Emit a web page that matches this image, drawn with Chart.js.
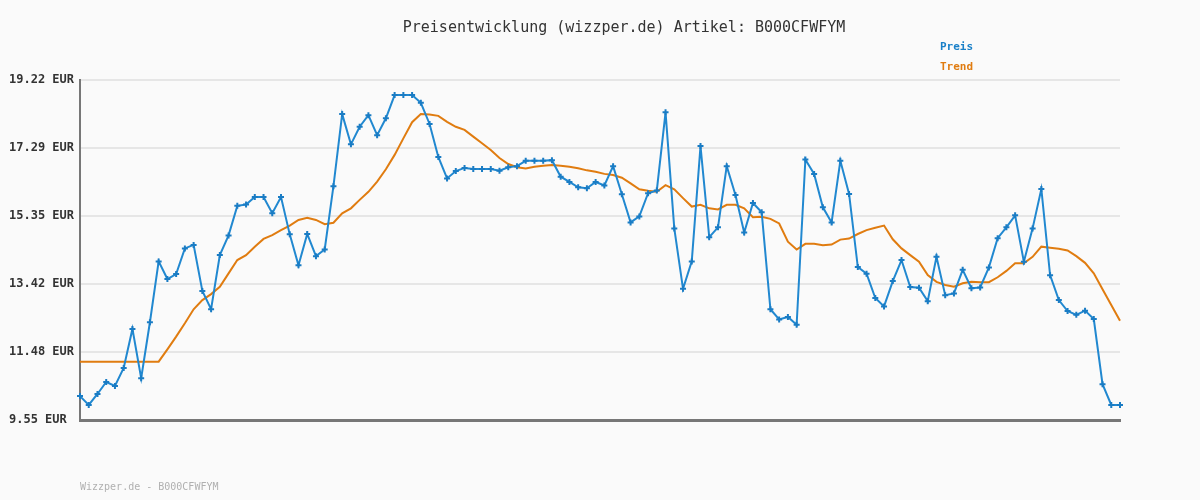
<!DOCTYPE html>
<html>
<head>
<meta charset="utf-8">
<script src="https://cdn.jsdelivr.net/npm/chart.js@4/dist/chart.umd.min.js"></script>
<style>
  html, body { margin: 0; padding: 0; background: #fafafa; }
  #wrap { width: 1200px; height: 500px; }
</style>
</head>
<body>
<div id="wrap"><canvas id="chart" width="1200" height="500"></canvas></div>
<script>
// Preis (blue) and Trend (orange), one value per day, 120 points
var preis = [
  10.23, 9.98, 10.29, 10.63, 10.52, 11.03, 12.14, 10.74, 12.33, 14.06,
  13.56, 13.70, 14.43, 14.53, 13.22, 12.70, 14.24, 14.80, 15.64, 15.68,
  15.89, 15.89, 15.43, 15.89, 14.83, 13.95, 14.84, 14.21, 14.40, 16.20,
  18.25, 17.39, 17.89, 18.22, 17.65, 18.13, 18.79, 18.79, 18.79, 18.57,
  17.97, 17.03, 16.42, 16.63, 16.72, 16.69, 16.69, 16.69, 16.64, 16.74,
  16.77, 16.92, 16.92, 16.92, 16.94, 16.47, 16.32, 16.17, 16.14, 16.32,
  16.22, 16.77, 15.97, 15.17, 15.34, 16.00, 16.08, 18.30, 15.00, 13.28,
  14.06, 17.34, 14.75, 15.03, 16.77, 15.95, 14.88, 15.72, 15.46, 12.70,
  12.41, 12.48, 12.26, 16.96, 16.55, 15.60, 15.17, 16.92, 15.98, 13.90,
  13.71, 13.02, 12.78, 13.50, 14.10, 13.33, 13.31, 12.93, 14.19, 13.10,
  13.15, 13.82, 13.30, 13.32, 13.89, 14.72, 15.03, 15.37, 14.05, 15.00,
  16.12, 13.67, 12.96, 12.65, 12.54, 12.66, 12.42, 10.57, 9.98, 9.98
];
var trend = [
  11.21, 11.21, 11.21, 11.21, 11.21, 11.21, 11.21, 11.21, 11.21, 11.21,
  11.56, 11.92, 12.30, 12.70, 12.96, 13.13, 13.34, 13.72, 14.10, 14.24,
  14.48, 14.70, 14.81, 14.95, 15.08, 15.24, 15.30, 15.24, 15.12, 15.16,
  15.43, 15.57, 15.81, 16.04, 16.33, 16.68, 17.09, 17.56, 18.02, 18.25,
  18.24, 18.20, 18.03, 17.89, 17.80, 17.61, 17.42, 17.23, 17.00, 16.83,
  16.74, 16.70, 16.75, 16.78, 16.80, 16.78, 16.75, 16.71, 16.65, 16.61,
  16.55, 16.52, 16.44, 16.28, 16.11, 16.07, 16.04, 16.23, 16.11, 15.86,
  15.62, 15.67, 15.57, 15.54, 15.67, 15.67, 15.57, 15.32, 15.33, 15.27,
  15.14, 14.62, 14.40, 14.56, 14.56, 14.52, 14.54, 14.68, 14.71, 14.84,
  14.95, 15.02, 15.08, 14.69, 14.43, 14.24, 14.05, 13.67, 13.48, 13.39,
  13.34, 13.44, 13.48, 13.47, 13.47, 13.61, 13.79, 14.01, 14.01, 14.19,
  14.48, 14.45, 14.42, 14.37, 14.21, 14.02, 13.72, 13.27, 12.82, 12.37
];
var yTicks = [9.55, 11.48, 13.42, 15.35, 17.29, 19.22];
var labels = preis.map(function (v, i) { return i + 1; });

var titleText = 'Preisentwicklung (wizzper.de) Artikel: B000CFWFYM';
var footerText = 'Wizzper.de - B000CFWFYM';
var mono = '"DejaVu Sans Mono", "Liberation Mono", monospace';

// title, legend and footer are plain text on the canvas
var decor = {
  id: 'decor',
  afterDraw: function (chart) {
    var c = chart.ctx;
    c.save();
    c.textBaseline = 'middle';
    c.font = '15px ' + mono;
    c.fillStyle = '#333333';
    c.textAlign = 'center';
    c.fillText(titleText, 624, 28);
    c.textAlign = 'left';
    c.font = 'bold 11px ' + mono;
    c.fillStyle = '#1a80c8';
    c.fillText('Preis', 940, 47);
    c.fillStyle = '#e07c10';
    c.fillText('Trend', 940, 67);
    c.font = '10px ' + mono;
    c.fillStyle = '#b0b0b0';
    c.fillText(footerText, 80, 487);
    c.restore();
  }
};

var ctx = document.getElementById('chart').getContext('2d');
var myChart = new Chart(ctx, {
  type: 'line',
  data: {
    labels: labels,
    datasets: [
      {
        label: 'Trend',
        data: trend,
        borderColor: '#e07c10',
        borderWidth: 2,
        pointRadius: 0,
        tension: 0,
        fill: false,
        order: 2
      },
      {
        label: 'Preis',
        data: preis,
        borderColor: '#2188d0',
        backgroundColor: '#1a80c8',
        borderWidth: 2,
        pointStyle: 'cross',
        pointRadius: 3,
        pointBorderColor: '#1a7cc4',
        pointBorderWidth: 2,
        tension: 0,
        fill: false,
        order: 1
      }
    ]
  },
  options: {
    responsive: false,
    animation: false,
    layout: { padding: { left: 9, top: 80, right: 80, bottom: 80 } },
    plugins: {
      legend: { display: false },
      title: { display: false },
      tooltip: { enabled: false }
    },
    scales: {
      x: {
        offset: false,
        grid: { display: false },
        ticks: { display: false },
        border: { color: '#777777', width: 3 },
        afterFit: function (scale) { scale.height = 0; }
      },
      y: {
        min: 9.55,
        max: 19.22,
        afterBuildTicks: function (scale) {
          scale.ticks = yTicks.map(function (v) { return { value: v }; });
        },
        afterFit: function (scale) { scale.width = 71; },
        grid: { color: '#e6e6e6', lineWidth: 2, drawTicks: false },
        border: { color: '#777777', width: 2 },
        ticks: {
          crossAlign: 'far',
          padding: 8,
          color: '#333333',
          font: { family: mono, size: 12, weight: 'bold' },
          callback: function (v) { return v.toFixed(2) + ' EUR'; }
        }
      }
    }
  },
  plugins: [decor]
});
</script>
</body>
</html>
